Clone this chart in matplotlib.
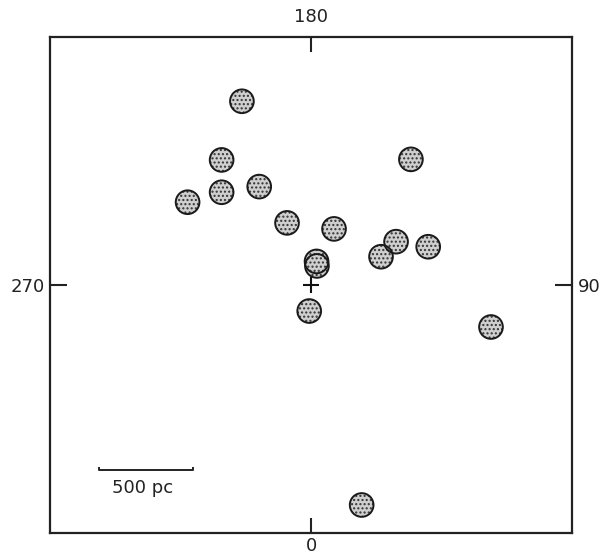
import matplotlib
matplotlib.use("Agg")
import matplotlib.pyplot as plt
from matplotlib.patches import Circle

# cluster positions (pc), origin at the cross
xs = [-370, -478, -478, -659, -278, -130, 120, 529, 450, 370, 621, 27, 29, -12, 955, 267]
ys = [980, 668, 496, 443, 526, 333, 301, 671, 233, 153, 206, 128, 104, -136, -221, -1168]
radius = 63

tick_labels = {"bottom": "0", "top": "180", "left": "270", "right": "90"}
scale_len = 500
scale_label = "500 pc"

W, H = 601, 554
fig = plt.figure(figsize=(W / 100, H / 100), dpi=100)
ax = fig.add_axes([50 / W, (H - 533) / H, 522 / W, 496 / H])
ax.set_xlim(-1391, 1386)
ax.set_ylim(-1317, 1322)

for x, y in zip(xs, ys):
    ax.add_patch(Circle((x, y), radius, facecolor="#cfcfcf", edgecolor="#333333",
                        hatch="....", linewidth=0, zorder=2))
    ax.add_patch(Circle((x, y), radius, facecolor="none", edgecolor="#1a1a1a",
                        linewidth=1.4, zorder=3))

ax.plot([0], [0], marker="+", color="#111111", markersize=11, mew=1.5, zorder=4)

# scale bar
x0 = -1131
yb = -981
ax.plot([x0, x0, x0 + scale_len, x0 + scale_len], [yb + 14, yb, yb, yb + 14],
        color="#222222", lw=1.4, solid_capstyle="butt")
ax.text(x0 + scale_len / 2 - 20, yb - 98, scale_label, ha="center", va="center",
        fontsize=13, color="#222222")

for s in ax.spines.values():
    s.set_linewidth(1.6)
    s.set_color("#222222")

ax.set_xticks([0])
ax.set_xticklabels([tick_labels["bottom"]])
ax.set_yticks([0])
ax.set_yticklabels([tick_labels["left"]])
ax.tick_params(axis="x", direction="in", length=11, width=1.5, pad=3,
               labelsize=13, colors="#222222")
ax.tick_params(axis="y", direction="in", length=12, width=1.5, pad=4,
               labelsize=13, colors="#222222")

secx = ax.secondary_xaxis("top")
secx.set_xticks([0])
secx.set_xticklabels([tick_labels["top"]])
secx.tick_params(direction="in", length=11, width=1.5, pad=8, labelsize=13,
                 colors="#222222")
secy = ax.secondary_yaxis("right")
secy.set_yticks([0])
secy.set_yticklabels([tick_labels["right"]])
secy.tick_params(direction="in", length=12, width=1.5, pad=4, labelsize=13,
                 colors="#222222")
for sa in (secx, secy):
    for s in sa.spines.values():
        s.set_visible(False)

fig.savefig("out.png", dpi=100)
